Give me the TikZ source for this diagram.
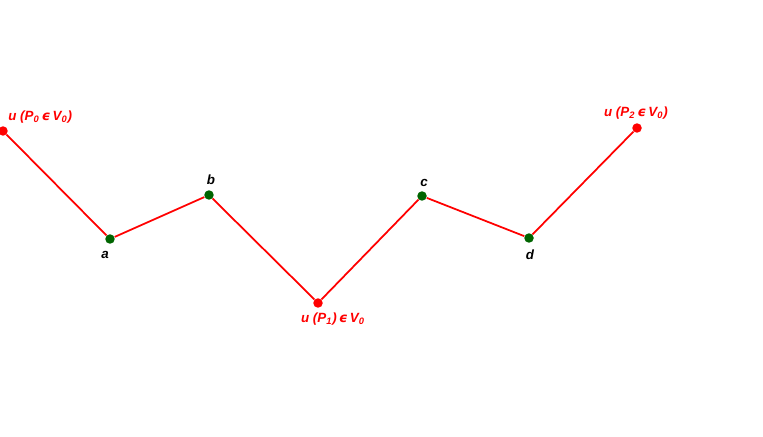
\documentclass[tikz,border=0pt]{standalone}
\usepackage{fontspec}
\setmainfont{Liberation Sans}
\newfontfamily\epsfont{DejaVu Sans}
\usepackage{tikz}

\definecolor{ptred}{RGB}{255,0,0}
\definecolor{ptgreen}{RGB}{0,100,0}

\tikzset{
  vtx/.style={circle,inner sep=0pt,minimum size=5.4pt},
  redvtx/.style={vtx,fill=ptred},
  greenvtx/.style={vtx,fill=ptgreen},
  seg/.style={draw=ptred,line width=1pt},
  lbl/.style={font=\fontsize{7.6}{9}\selectfont\bfseries\itshape,inner sep=0pt}
}
\newcommand{\inV}{\,{\epsfont ϵ}\,}

\begin{document}
\begin{tikzpicture}[x=0.02cm,y=-0.02cm]
  \useasboundingbox (0,0) rectangle (763,436);

  \node[redvtx] (p0) at (3,131) {};
  \node[greenvtx] (a) at (110,239) {};
  \node[greenvtx] (b) at (209,195) {};
  \node[redvtx] (p1) at (318,303) {};
  \node[greenvtx] (c) at (422,196) {};
  \node[greenvtx] (d) at (529,238) {};
  \node[redvtx] (p2) at (637,128) {};

  % the broken line
  \path[seg] (p0) -- (a) -- (b) -- (p1) -- (c) -- (d) -- (p2);

  % labels
  \node[lbl,text=ptred,anchor=west] (lp0) at (8,117) {u (P\textsubscript{0}\inV V\textsubscript{0})};
  \node[lbl,text=ptred] (lp1) at (333,319) {u (P\textsubscript{1})\inV V\textsubscript{0}};
  \node[lbl,text=ptred] (lp2) at (636,113) {u (P\textsubscript{2}\inV V\textsubscript{0})};
  \node[lbl] (la) at (105,255) {a};
  \node[lbl] (lb) at (211,180) {b};
  \node[lbl] (lc) at (424,183) {c};
  \node[lbl] (ld) at (530,255) {d};
\end{tikzpicture}
\end{document}
